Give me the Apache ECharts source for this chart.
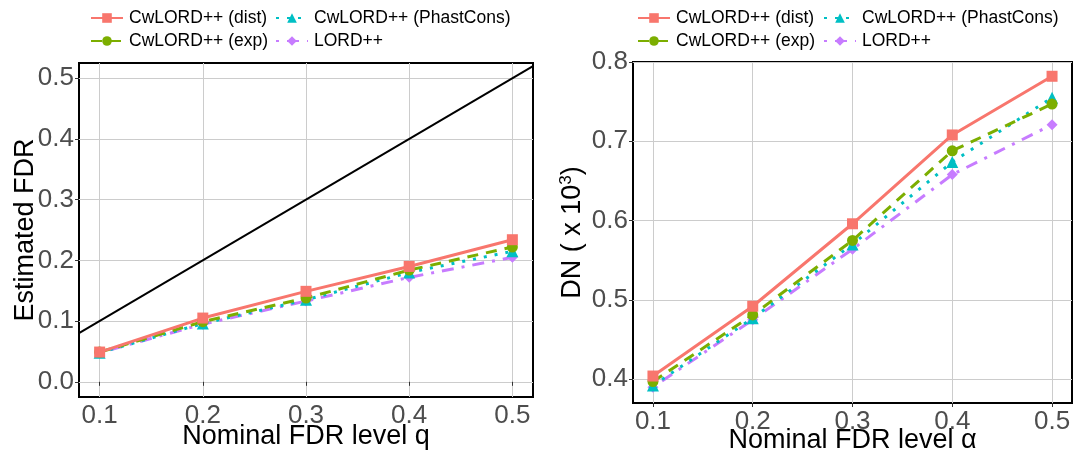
<!DOCTYPE html>
<html>
<head>
<meta charset="utf-8">
<script src="https://cdn.jsdelivr.net/npm/echarts@6/dist/echarts.min.js"></script>
<style>
html,body{margin:0;padding:0;background:#fff;}
#chart{width:1075px;height:454px;}
</style>
</head>
<body>
<div id="chart"></div>
<script>
// ---- data ----
const xLevels = [0.1, 0.2, 0.3, 0.4, 0.5];
const xTicks = [0.1, 0.2, 0.3, 0.4, 0.5];
const leftYTicks = [0.0, 0.1, 0.2, 0.3, 0.4, 0.5];
const rightYTicks = [0.4, 0.5, 0.6, 0.7, 0.8];
const identityX = [0.08, 0.52];

const seriesNames = ['CwLORD++ (dist)', 'CwLORD++ (exp)', 'CwLORD++ (PhastCons)', 'LORD++'];

const leftDist  = [0.049, 0.105, 0.149, 0.190, 0.234];
const leftExp   = [0.049, 0.099, 0.138, 0.184, 0.222];
const leftPhast = [0.048, 0.096, 0.135, 0.180, 0.215];
const leftLord  = [0.048, 0.095, 0.133, 0.172, 0.205];

const rightDist  = [0.404, 0.492, 0.596, 0.708, 0.782];
const rightExp   = [0.397, 0.481, 0.575, 0.688, 0.747];
const rightPhast = [0.392, 0.477, 0.570, 0.674, 0.755];
const rightLord  = [0.390, 0.475, 0.564, 0.658, 0.721];

// ---- styles ----
const FONT = 'Liberation Sans, Arial, sans-serif';
const styles = {
  'CwLORD++ (dist)':      {color:'#F8766D', symbol:'rect',     size:11, dash:'solid'},
  'CwLORD++ (exp)':       {color:'#7CAE00', symbol:'circle',   size:11, dash:[11,8]},
  'CwLORD++ (PhastCons)': {color:'#00BFC4', symbol:'triangle', size:12, dash:[3,8]},
  'LORD++':               {color:'#C77CFF', symbol:'diamond',  size:11, dash:[3,8,12,8]}
};

function pairs(xs, ys){ return xs.map((x,i)=>[x, ys[i]]); }

function makeSeries(name, vals, gi){
  const s = styles[name];
  return {
    name: name, type:'line', xAxisIndex:gi, yAxisIndex:gi,
    data: pairs(xLevels, vals),
    symbol: s.symbol, symbolSize: s.size, showSymbol:true,
    itemStyle:{color:s.color},
    lineStyle:{color:s.color, width:3, type:s.dash},
    emphasis:{disabled:true}, animation:false
  };
}

const drawOrder = ['LORD++', 'CwLORD++ (PhastCons)', 'CwLORD++ (exp)', 'CwLORD++ (dist)'];
const leftVals = {'CwLORD++ (dist)':leftDist,'CwLORD++ (exp)':leftExp,'CwLORD++ (PhastCons)':leftPhast,'LORD++':leftLord};
const rightVals = {'CwLORD++ (dist)':rightDist,'CwLORD++ (exp)':rightExp,'CwLORD++ (PhastCons)':rightPhast,'LORD++':rightLord};

const series = [];
series.push({
  type:'line', xAxisIndex:0, yAxisIndex:0, data: identityX.map(v=>[v,v]),
  symbol:'none', lineStyle:{color:'#000', width:2}, silent:true, animation:false, z:1
});
drawOrder.forEach(n=>series.push(makeSeries(n, leftVals[n], 0)));
drawOrder.forEach(n=>series.push(makeSeries(n, rightVals[n], 1)));

function legendItem(name, left, top){
  return {
    data:[name], left:left, top:top, padding:0, orient:'horizontal',
    itemWidth:32, itemHeight:12, itemGap:0, selectedMode:false,
    textStyle:{fontFamily:FONT, fontSize:17.5, color:'#000', padding:[0,0,0,1]}
  };
}

const legends = [
  legendItem('CwLORD++ (dist)', 90, 9),
  legendItem('CwLORD++ (PhastCons)', 275, 9),
  legendItem('CwLORD++ (exp)', 90, 32),
  legendItem('LORD++', 275, 32),
  legendItem('CwLORD++ (dist)', 637, 9),
  legendItem('CwLORD++ (PhastCons)', 823, 9),
  legendItem('CwLORD++ (exp)', 637, 32),
  legendItem('LORD++', 823, 32)
];

function xAxis(gi, name, gap){
  return {
    type:'value', gridIndex:gi, min:0.08, max:0.52,
    name:name, nameLocation:'middle', nameGap:gap, nameMoveOverlap:false,
    nameTextStyle:{fontFamily:FONT, fontSize:27, color:'#000'},
    axisLine:{show:false},
    axisTick:{show:true, length:4, customValues:xTicks, lineStyle:{color:'#333', width:1}},
    axisLabel:{customValues:xTicks, fontFamily:FONT, fontSize:26, color:'#4D4D4D', margin:6,
      formatter:v=>v.toFixed(1)},
    splitLine:{show:true, lineStyle:{color:'#CCCCCC', width:1}}
  };
}
function yAxis(gi, min, max, ticks, name, gap, rich){
  return {
    type:'value', gridIndex:gi, min:min, max:max,
    name:name, nameLocation:'middle', nameGap:gap, nameMoveOverlap:false,
    nameTextStyle:Object.assign({fontFamily:FONT, fontSize:27, color:'#000'}, rich?{rich:rich}:{}),
    axisLine:{show:false},
    axisTick:{show:true, length:4, customValues:ticks, lineStyle:{color:'#333', width:1}},
    axisLabel:{customValues:ticks, fontFamily:FONT, fontSize:26, color:'#4D4D4D', margin:5,
      formatter:v=>v.toFixed(1)},
    splitLine:{show:true, lineStyle:{color:'#CCCCCC', width:1}}
  };
}

const option = {
  backgroundColor:'#fff',
  animation:false,
  legend: legends,
  grid:[
    {left:79, right:542, top:63, bottom:57, show:true, borderColor:'#000', borderWidth:2,
     backgroundColor:'transparent', containLabel:false, outerBoundsMode:'none'},
    {left:633, right:3, top:62, bottom:51, show:true, borderColor:'#000', borderWidth:2,
     backgroundColor:'transparent', containLabel:false, outerBoundsMode:'none'}
  ],
  xAxis:[ xAxis(0,'Nominal FDR level q', 26), xAxis(1,'Nominal FDR level α', 24) ],
  yAxis:[
    yAxis(0, -0.025, 0.525, leftYTicks, 'Estimated FDR', 40),
    yAxis(1, 0.37, 0.80, rightYTicks, 'DN ( x 10{sup|3})', 46,
      {sup:{fontFamily:FONT, fontSize:17, color:'#000', verticalAlign:'top', padding:[0,0,12,0]}})
  ],
  series: series
};

const chart = echarts.init(document.getElementById('chart'), null, {renderer:'canvas'});
chart.setOption(option);
</script>
</body>
</html>
